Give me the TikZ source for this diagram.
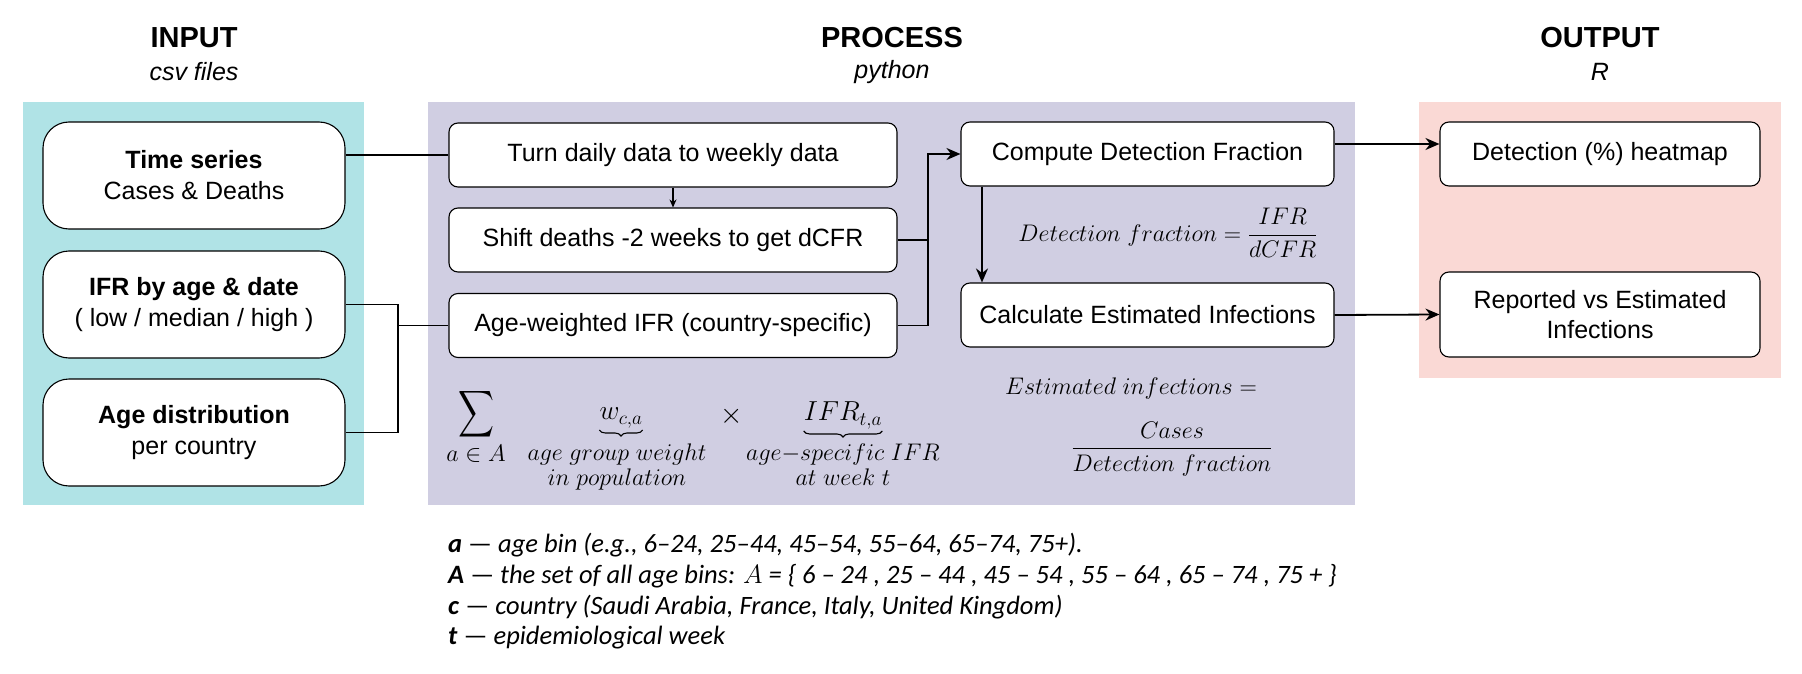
\RequirePackage{fix-cm}
\documentclass[tikz,border=0pt]{standalone}
\usepackage{amsmath}
\usepackage{graphicx}
\usepackage{fontspec}
\setmainfont{Liberation Sans}
\newfontfamily\legendfont{Carlito}
\usetikzlibrary{arrows.meta,calc,decorations.pathreplacing}
\definecolor{inputcol}{HTML}{B0E3E6}
\definecolor{proccol}{HTML}{D0CEE2}
\definecolor{outcol}{HTML}{FAD9D5}
\begin{document}
\begin{tikzpicture}[x=1pt,y=-1pt,
  inbox/.style={draw=black, line width=1.1pt, fill=white, rounded corners=26pt, minimum width=302pt, minimum height=107pt, align=center, font=\fontsize{25}{31}\selectfont},
  pbox/.style={draw=black, line width=1.1pt, fill=white, rounded corners=9pt, minimum height=64pt, align=center, font=\fontsize{25}{30}\selectfont},
  conn/.style={line width=1.8pt},
  arr/.style={conn, -{Stealth[length=14pt,width=12pt]}},
  ttl/.style={font=\fontsize{29}{34}\selectfont\bfseries},
  subttl/.style={font=\fontsize{25}{30}\selectfont\itshape},
  mth/.style={font=\fontsize{24}{25}\selectfont, inner sep=0pt},
  bigmth/.style={font=\fontsize{27.5}{30}\selectfont, inner sep=0pt},
  ubrace/.style={decorate, decoration={brace, mirror, amplitude=6pt}, line width=1.1pt},
  leg/.style={font=\fontsize{26.5}{31}\selectfont\legendfont, anchor=west, inner sep=0pt},
]
\useasboundingbox (0,0) rectangle (1802,674);
\fill[white] (0,0) rectangle (1802,674);
% panels
\fill[inputcol] (23,102) rectangle (364,505);
\fill[proccol] (428,102) rectangle (1355,505);
\fill[outcol] (1419,102) rectangle (1781,378);
% titles
\node[ttl] (tin) at (194,38) {INPUT};
\node[subttl] (sin) at (194,72) {csv files};
\node[ttl] (tpr) at (892,38) {PROCESS};
\node[subttl] (spr) at (892,72) {python};
\node[ttl] (tout) at (1600,38) {OUTPUT};
\node[subttl] (sout) at (1600,72) {R};
% input boxes
\node[inbox] (ts) at (194,175.5) {\textbf{Time series}\\Cases \& Deaths};
\node[inbox] (ifr) at (194,304.5) {\textbf{IFR by age \& date}\\( low / median / high )};
\node[inbox] (age) at (194,432.5) {\textbf{Age distribution}\\per country};
% process boxes
\node[pbox, minimum width=448pt] (td) at (673,155) {Turn daily data to weekly data};
\node[pbox, minimum width=448pt] (sd) at (673,240) {Shift deaths -2 weeks to get dCFR};
\node[pbox, minimum width=448pt] (aw) at (673,325.5) {Age-weighted IFR (country-specific)};
\node[pbox, minimum width=373pt] (cd) at (1147.5,154) {Compute Detection Fraction};
\node[pbox, minimum width=373pt] (ce) at (1147.5,315) {Calculate Estimated Infections};
% output boxes
\node[pbox, minimum width=320pt] (hm) at (1600,154) {Detection (\%) heatmap};
\node[pbox, minimum width=320pt, minimum height=85pt] (rv) at (1600,314.5) {Reported vs Estimated\\Infections};
% connectors
\coordinate (j1) at (398,0);
\coordinate (j2) at (928,0);
\coordinate (k) at (982,0);
\draw[conn] (ts.east |- td.west) -- (td.west);
\draw[conn] (ifr.east) -- (ifr.east -| j1) -- (age.east -| j1) -- (age.east);
\draw[conn] (aw.west -| j1) -- (aw.west);
\draw[line width=1.1pt, -{Stealth[length=8pt,width=7pt]}] (td.south) -- (sd.north);
\draw[conn] (sd.east) -- (sd.east -| j2);
\draw[arr] (aw.east) -- (aw.east -| j2) -- (cd.west -| j2) -- (cd.west);
\draw[arr] (cd.south -| k) -- (ce.north -| k);
\draw[arr] ([yshift=10pt]cd.east) -- ([yshift=10pt]hm.west);
\draw[arr] (ce.east) -- (rv.west);
% formulas
\node[inner sep=0pt] (sum) at (476,414) {\resizebox*{36pt}{52pt}{$\displaystyle\sum$}};
\node[mth] (suml) at (476,454) {$a\in A$};
\node[bigmth, anchor=south] (w) at (621,428) {$w_{c,a}$};
\draw[ubrace] ([yshift=-2pt]w.south west) -- ([yshift=-2pt]w.south east);
\node[mth, align=center, anchor=north] (wl) at (617,444) {$age\ group\ weight$\\$in\ population$};
\node[mth] (times) at (732,416) {\scalebox{1.2}{$\times$}};
\node[bigmth, anchor=south] (ifrf) at (843,429) {$IFR_{t,a}$};
\draw[ubrace] ([yshift=-2pt]ifrf.south west) -- ([yshift=-2pt]ifrf.south east);
\node[mth, align=center, anchor=north] (ifrl) at (843,444) {$age{-}specific\ IFR$\\$at\ week\ t$};
\node[mth] (df) at (1168,233) {$Detection\ fraction = \dfrac{IFR}{dCFR}$};
\node[mth] (ei) at (1131,388) {$Estimated\ infections =$};
\node[mth] (eif) at (1172,449) {$\dfrac{Cases}{Detection\ fraction}$};
% legend
\node[leg] (l1) at (448,545) {\textbf{\textit{a}} — \textit{age bin (e.g., 6–24, 25–44, 45–54, 55–64, 65–74, 75+).}};
\node[leg] (l2) at (448,576) {\textbf{\textit{A}} — \textit{the set of all age bins: $A$ = \{ 6 – 24 , 25 – 44 , 45 – 54 , 55 – 64 , 65 – 74 , 75 + \}}};
\node[leg] (l3) at (448,607) {\textbf{\textit{c}} — \textit{country (Saudi Arabia, France, Italy, United Kingdom)}};
\node[leg] (l4) at (448,638) {\textbf{\textit{t}} — \textit{epidemiological week}};
\end{tikzpicture}
\end{document}
